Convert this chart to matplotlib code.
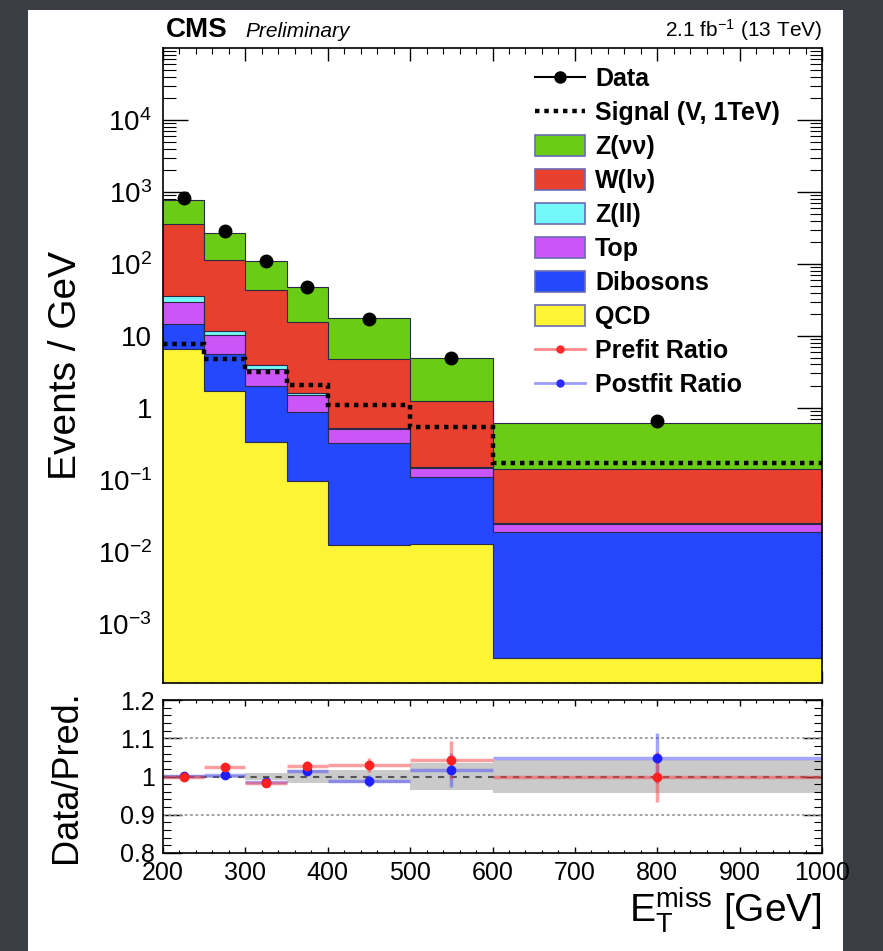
import numpy as np
import matplotlib
matplotlib.use("Agg")
import matplotlib.pyplot as plt
from matplotlib.patches import Rectangle, Patch
from matplotlib.lines import Line2D
from matplotlib.ticker import (LogLocator, NullFormatter, FixedLocator,
                               FixedFormatter, MultipleLocator, FuncFormatter)

plt.rcParams["font.family"] = ["Liberation Sans", "DejaVu Sans"]
plt.rcParams["mathtext.fontset"] = "custom"
plt.rcParams["mathtext.rm"] = "Liberation Sans"
plt.rcParams["mathtext.it"] = "Liberation Sans:italic"
plt.rcParams["mathtext.bf"] = "Liberation Sans:bold"

# binning in MET
bin_edges = [200, 250, 300, 350, 400, 500, 600, 1000]
bin_centers = [225, 275, 325, 375, 450, 550, 800]

# background yields (events / GeV), stacked bottom -> top
qcd = [6.5, 1.7, 0.34, 0.095, 0.0123, 0.0128, 0.00033]
dibosons = [8.0, 3.9, 1.66, 0.785, 0.308, 0.098, 0.0184]
top = [15.5, 4.6, 1.5, 0.62, 0.19, 0.033, 0.0053]
zll = [5.5, 1.4, 0.4, 0.1, 0.02, 0.005, 0.001]
wlv = [327, 103, 39, 13.9, 4.27, 1.1, 0.118]
znn = [417, 155, 68, 31.5, 12.8, 3.65, 0.477]

data = [830, 285, 108, 48, 17, 5.0, 0.66]
signal = [7.7, 4.8, 3.1, 2.1, 1.1, 0.55, 0.17]

# ratio panel
prefit = [1.0, 1.025, 0.983, 1.027, 1.03, 1.043, 0.998]
prefit_err = [0.005, 0.01, 0.01, 0.013, 0.018, 0.05, 0.065]
postfit = [1.002, 1.005, 0.985, 1.015, 0.988, 1.017, 1.048]
postfit_err = [0.005, 0.008, 0.008, 0.012, 0.016, 0.045, 0.065]
band_unc = [0.003, 0.005, 0.01, 0.017, 0.018, 0.034, 0.042]

components = [
    ("QCD", qcd, "#fcf434"),
    ("Dibosons", dibosons, "#2448fc"),
    ("Top", top, "#cc55f8"),
    ("Z(ll)", zll, "#74f8f8"),
    ("W(l\u03bd)", wlv, "#e8402f"),
    ("Z(\u03bd\u03bd)", znn, "#6acc14"),
]

W, H = 883, 951
fig = plt.figure(figsize=(W / 100, H / 100), dpi=100, facecolor="#3b3e45")
fig.add_artist(Rectangle((28 / W, 0), (843 - 28) / W, (H - 10) / H,
                         transform=fig.transFigure, facecolor="white",
                         edgecolor="none", zorder=-10))


def fig_axes(x0, x1, y0, y1):
    return fig.add_axes([x0 / W, 1 - y1 / H, (x1 - x0) / W, (y1 - y0) / H])


ax = fig_axes(163, 822, 48, 683)
rax = fig_axes(163, 822, 700, 853)

# stacked histogram
edges = np.array(bin_edges, dtype=float)
bottom = np.full(len(qcd), 1e-6)
for name, vals, col in components:
    topv = bottom + np.array(vals)
    ax.stairs(topv, edges, baseline=bottom, fill=True, facecolor=col,
              edgecolor="none", zorder=2)
    ax.stairs(topv, edges, baseline=None, color="#2a2a48", lw=0.8, zorder=3)
    bottom = topv

ax.stairs(signal, edges, baseline=None, color="black", lw=3.2,
          linestyle=(0, (1, 1.1)), zorder=4)
ax.plot(bin_centers, data, "o", color="black", ms=9, zorder=5)

ax.set_yscale("log")
ax.set_xlim(200, 1000)
ax.set_ylim(1.5e-4, 1e5)
ax.yaxis.set_major_locator(FixedLocator([1e-3, 1e-2, 1e-1, 1, 10, 100, 1e3, 1e4]))
ax.yaxis.set_major_formatter(FixedFormatter(
    [r"$10^{-3}$", r"$10^{-2}$", r"$10^{-1}$", "1", "10",
     r"$10^{2}$", r"$10^{3}$", r"$10^{4}$"]))
ax.yaxis.set_minor_locator(LogLocator(base=10, subs=np.arange(2, 10), numticks=100))
ax.yaxis.set_minor_formatter(NullFormatter())
ax.xaxis.set_major_locator(MultipleLocator(100))
ax.xaxis.set_minor_locator(MultipleLocator(20))
ax.tick_params(axis="x", labelbottom=False)
ax.tick_params(which="both", direction="in", top=True, right=True)
ax.tick_params(axis="y", which="major", length=18, width=1, labelsize=20, pad=8)
ax.tick_params(axis="y", which="minor", length=9, width=0.8)
ax.tick_params(axis="x", which="major", length=9, width=1)
ax.tick_params(axis="x", which="minor", length=4.5, width=0.8)
ax.set_ylabel("Events / GeV", fontsize=28)
ax.yaxis.set_label_coords(-0.12, 0.5)
for sp in ax.spines.values():
    sp.set_linewidth(1.2)
    sp.set_zorder(6)

# legend
handles = [
    Line2D([], [], color="black", lw=1.5, marker="o", ms=8),
    Line2D([], [], color="black", lw=3.2, linestyle=(0, (1, 1.1))),
]
labels = ["Data", "Signal (V, 1TeV)"]
for name, vals, col in components[::-1]:
    handles.append(Patch(facecolor=col, edgecolor="#6a6ab8", lw=1.2))
    labels.append(name)
handles.append(Line2D([], [], color="#ff8a8a", lw=2, marker="o", ms=5,
                      mfc="#ff2a2a", mec="#ff2a2a"))
handles.append(Line2D([], [], color="#9a9aff", lw=2, marker="o", ms=5,
                      mfc="#2a2aff", mec="#2a2aff"))
labels += ["Prefit Ratio", "Postfit Ratio"]
leg = ax.legend(handles, labels, loc="upper left",
                bbox_to_anchor=(535 / W, 1 - 67 / H),
                bbox_transform=fig.transFigure, frameon=False,
                prop={"size": 18, "weight": "bold"}, borderpad=0,
                borderaxespad=0, handlelength=2.0, handleheight=0.9,
                handletextpad=0.4, labelspacing=0.4)
leg.set_zorder(7)

# header texts
fig.text(166 / W, 1 - 37 / H, "CMS", fontsize=20, fontweight="bold",
         va="baseline", ha="left")
fig.text(245 / W, 1 - 37 / H, "Preliminary", fontsize=15, fontstyle="italic",
         va="baseline", ha="left")
fig.text(822 / W, 1 - 37 / H, r"2.1 fb$^{-1}$ (13 TeV)", fontsize=15,
         va="baseline", ha="right")

# ratio panel
rax.stairs(1 + np.array(band_unc), edges, baseline=1 - np.array(band_unc),
           fill=True, facecolor="#cacaca", edgecolor="none", zorder=1)
rax.axhline(1.1, color="#9a9a9a", lw=1.3, linestyle=(0, (1.5, 1.5)), zorder=2)
rax.axhline(0.9, color="#9a9a9a", lw=1.3, linestyle=(0, (1.5, 1.5)), zorder=2)
rax.axhline(1.0, color="#555555", lw=1.5, linestyle=(0, (3, 3)), zorder=2)

half_w = (np.diff(edges) / 2)
rax.errorbar(bin_centers, postfit, xerr=half_w, yerr=postfit_err, fmt="none",
             ecolor=(0.3, 0.3, 1.0, 0.5), elinewidth=2.5, capsize=0, zorder=3)
rax.plot(bin_centers, postfit, "o", color="#2020ff", ms=6, zorder=4)
rax.errorbar(bin_centers, prefit, xerr=half_w, yerr=prefit_err, fmt="none",
             ecolor=(1.0, 0.25, 0.25, 0.5), elinewidth=2.5, capsize=0, zorder=3)
rax.plot(bin_centers, prefit, "o", color="#ff2020", ms=6, zorder=4)

rax.set_xlim(200, 1000)
rax.set_ylim(0.8, 1.2)
rax.yaxis.set_major_locator(FixedLocator([0.8, 0.9, 1.0, 1.1, 1.2]))
rax.yaxis.set_major_formatter(FuncFormatter(lambda v, p: f"{v:g}"))
rax.yaxis.set_minor_locator(MultipleLocator(0.02))
rax.xaxis.set_major_locator(MultipleLocator(100))
rax.xaxis.set_minor_locator(MultipleLocator(20))
rax.tick_params(which="both", direction="in", top=True, right=True)
rax.tick_params(axis="y", which="major", length=14, width=1, labelsize=18, pad=6)
rax.tick_params(axis="y", which="minor", length=6, width=0.8)
rax.tick_params(axis="x", which="major", length=4, width=1, labelsize=18, pad=6)
rax.tick_params(axis="x", which="minor", length=2.5, width=0.8)
rax.set_ylabel("Data/Pred.", fontsize=26)
rax.yaxis.set_label_coords(-0.12, 0.5)
rax.set_xlabel(r"E$_\mathrm{T}^\mathrm{miss}$ [GeV]", fontsize=28, ha="right")
rax.xaxis.set_label_coords(1.0, -0.215)
for sp in rax.spines.values():
    sp.set_linewidth(1.2)
    sp.set_zorder(6)

fig.savefig("out.png", dpi=100, facecolor=fig.get_facecolor())
